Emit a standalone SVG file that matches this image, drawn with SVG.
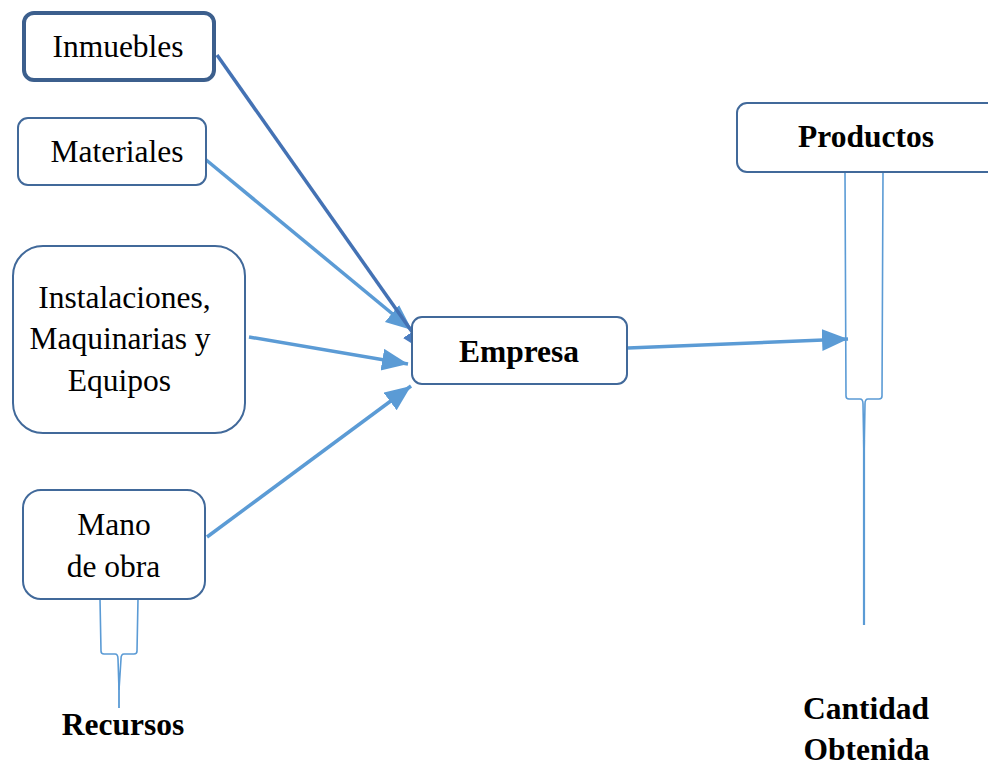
<svg xmlns="http://www.w3.org/2000/svg" width="988" height="764" viewBox="0 0 988 764">
<style>
.box{fill:#fff;stroke:#41699a;stroke-width:2}
.t{font-family:"Liberation Serif",serif;font-size:31.5px;fill:#000;text-anchor:middle}
.b{font-weight:bold}
.c{fill:none;stroke:#5b9bd5;stroke-width:3.5}
.cd{fill:none;stroke:#4472b4;stroke-width:3.5}
.br{fill:none;stroke:#5b9bd5;stroke-width:1.6}
</style>
<defs>
<marker id="ah" markerUnits="userSpaceOnUse" markerWidth="30" markerHeight="24" refX="26" refY="11" orient="auto">
<path d="M0,0 L26,11 L0,22 Z" fill="#5b9bd5"/>
</marker>
<marker id="ahd" markerUnits="userSpaceOnUse" markerWidth="30" markerHeight="24" refX="26" refY="11" orient="auto">
<path d="M0,0 L26,11 L0,22 Z" fill="#4a7cc0"/>
</marker>
</defs>
<g id="connectors">
<line class="c" x1="205" y1="159" x2="412" y2="330" marker-end="url(#ah)"/>
<line class="c" x1="249" y1="337" x2="408" y2="364" marker-end="url(#ah)"/>
<line class="c" x1="207" y1="537" x2="411" y2="386" marker-end="url(#ah)"/>
<line class="cd" x1="217" y1="55" x2="427" y2="353" marker-end="url(#ahd)"/>
<line class="c" x1="628" y1="348" x2="848" y2="339" marker-end="url(#ah)"/>
<path class="br" d="M845,173 L846,396 Q846,399 849,399 L860,399 Q863,399 863,404 L864,460 M883,173 L882,396 Q882,399 879,399 L868,399 Q865,399 865,404 L864,460"/>
<line x1="864" y1="440" x2="864" y2="625" stroke="#5b9bd5" stroke-width="2.2"/>
<path class="br" d="M100,599 L101,651 Q101,654 104,654 L115,654 Q118,654 118,659 L119,690 M138,599 L137,651 Q137,654 134,654 L124,654 Q121,654 121,659 L119,690"/>
<line x1="119" y1="680" x2="119" y2="708" stroke="#5b9bd5" stroke-width="1.8"/>
</g>
<g id="inmuebles">
<rect x="24" y="13" width="190" height="67" rx="10" fill="#fff" stroke="#3c5f8d" stroke-width="4"/>
<text class="t" x="118" y="57">Inmuebles</text>
</g>
<g id="materiales">
<rect class="box" x="18" y="118" width="188" height="67" rx="10"/>
<text class="t" x="117" y="162">Materiales</text>
</g>
<g id="instalaciones">
<rect class="box" x="13" y="246" width="232" height="187" rx="30"/>
<text class="t" x="124.5" y="308">Instalaciones,</text>
<text class="t" x="120" y="349">Maquinarias y</text>
<text class="t" x="119.5" y="391">Equipos</text>
</g>
<g id="mano">
<rect class="box" x="23" y="490" width="182" height="109" rx="18"/>
<text class="t" x="114" y="535">Mano</text>
<text class="t" x="113.5" y="577">de obra</text>
</g>
<g id="empresa">
<rect class="box" x="412" y="317" width="215" height="67" rx="10"/>
<text class="t b" x="519" y="362">Empresa</text>
</g>
<g id="productos">
<rect class="box" x="737" y="103" width="260" height="69" rx="10"/>
<text class="t b" x="866" y="147">Productos</text>
</g>
<g id="recursos">
<text class="t b" x="123" y="735">Recursos</text>
</g>
<g id="cantidad">
<text class="t b" x="866" y="719">Cantidad</text>
<text class="t b" x="866.5" y="760">Obtenida</text>
</g>
</svg>
